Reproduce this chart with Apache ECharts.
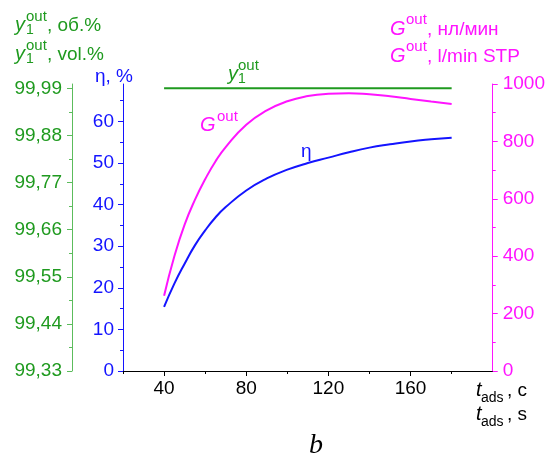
<!DOCTYPE html>
<html>
<head>
<meta charset="utf-8">
<script src="https://cdn.jsdelivr.net/npm/echarts@6.0.0/dist/echarts.min.js"></script>
<style>
html,body{margin:0;padding:0;background:#fff;}
#main{width:548px;height:457px;}
</style>
</head>
<body>
<div id="main"></div>
<script>
// время адсорбции, с
var tAds = [40, 45, 50, 55, 60, 65, 70, 80, 90, 100, 110, 120, 130, 140, 150, 160, 170, 180];
// η, %
var eta = [15.4, 21.0, 25.8, 30.2, 33.8, 36.9, 39.4, 43.4, 46.3, 48.4, 50.0, 51.3, 52.6, 53.7, 54.5, 55.2, 55.7, 56.1];
// G out, нл/мин
var gOut = [262, 400, 510, 596, 668, 730, 780, 858, 908, 940, 958, 966, 968, 964, 957, 948, 939, 930];
// y1 out, об.%
var yOutT = [40, 180];
var yOut = [99.99, 99.99];

var xTicks = [40, 80, 120, 160];
var xMinor = [20, 60, 100, 140, 180];
var etaTicks = [0, 10, 20, 30, 40, 50, 60];
var etaMinor = [5, 15, 25, 35, 45, 55, 65];
var greenTicks = [99.33, 99.44, 99.55, 99.66, 99.77, 99.88, 99.99];
var greenMinor = [99.385, 99.495, 99.605, 99.715, 99.825, 99.935];
var gTicks = [0, 200, 400, 600, 800, 1000];
var gMinor = [100, 300, 500, 700, 900];

var BLUE = '#1414ff', MAG = '#ff14ff', GREEN = '#1f9a1f', GREEN_AX = '#5cbc5c';
var FONT = 'Liberation Sans, Arial, sans-serif';

function pairs(xs, ys){
	var out = [];
	for (var i = 0; i < xs.length; i++) out.push([xs[i], ys[i]]);
	return out;
}
function txt(x, y, s, color, size, italic, family){
	return {
		type: 'text', x: x, y: y, silent: true,
		style: {
			text: s, fill: color,
			font: (italic ? 'italic ' : '') + size + 'px ' + (family || FONT),
			textAlign: 'left', textVerticalAlign: 'middle'
		}
	};
}
// ось: основные деления с подписями
function yMain(opt){
	return {
		type: 'value', gridIndex: 0, position: opt.pos, offset: opt.offset || 0,
		min: opt.min, max: opt.max,
		axisLine: {show: true, lineStyle: {color: opt.line, width: 1}},
		axisTick: {show: true, length: 5, customValues: opt.ticks, lineStyle: {color: opt.line}},
		axisLabel: {customValues: opt.ticks, color: opt.color, fontSize: 19, fontFamily: FONT,
			margin: opt.margin || 9, formatter: opt.fmt || function(v){ return String(v); }},
		splitLine: {show: false}
	};
}
// ось только для мелких делений
function yMinor(opt){
	return {
		type: 'value', gridIndex: 0, position: opt.pos, offset: opt.offset || 0,
		min: opt.min, max: opt.max,
		axisLine: {show: false},
		axisTick: {show: true, length: 3, customValues: opt.ticks, lineStyle: {color: opt.line}},
		axisLabel: {show: false},
		splitLine: {show: false}
	};
}

var chart = echarts.init(document.getElementById('main'));
chart.setOption({
	animation: false,
	backgroundColor: '#fff',
	grid: {left: 123, right: 54, top: 84, bottom: 86, containLabel: false},
	xAxis: [
		{
			type: 'value', min: 20, max: 200, position: 'bottom',
			axisLine: {show: true, lineStyle: {color: '#000', width: 1}},
			axisTick: {show: true, length: 5, customValues: xTicks, lineStyle: {color: '#000'}},
			axisLabel: {customValues: xTicks, color: '#000', fontSize: 19, fontFamily: FONT, margin: 8},
			splitLine: {show: false}
		},
		{
			type: 'value', min: 20, max: 200, position: 'bottom',
			axisLine: {show: false},
			axisTick: {show: true, length: 3, customValues: xMinor, lineStyle: {color: '#000'}},
			axisLabel: {show: false},
			splitLine: {show: false}
		}
	],
	yAxis: [
		yMain({pos: 'left', min: 0, max: 69, ticks: etaTicks, line: BLUE, color: BLUE}),
		yMinor({pos: 'left', min: 0, max: 69, ticks: etaMinor, line: BLUE}),
		yMain({pos: 'left', offset: 51, min: 99.33, max: 100.0, ticks: greenTicks, line: GREEN_AX, color: GREEN,
			margin: 10, fmt: function(v){ return v.toFixed(2).replace('.', ','); }}),
		yMinor({pos: 'left', offset: 51, min: 99.33, max: 100.0, ticks: greenMinor, line: GREEN_AX}),
		yMain({pos: 'right', min: 0, max: 1000, ticks: gTicks, line: MAG, color: MAG, margin: 10}),
		yMinor({pos: 'right', min: 0, max: 1000, ticks: gMinor, line: MAG})
	],
	series: [
		{
			name: 'η', type: 'line', yAxisIndex: 0, smooth: true, showSymbol: false,
			data: pairs(tAds, eta), lineStyle: {color: BLUE, width: 2}
		},
		{
			name: 'Gout', type: 'line', yAxisIndex: 4, smooth: true, showSymbol: false,
			data: pairs(tAds, gOut), lineStyle: {color: MAG, width: 2}
		},
		{
			name: 'y1out', type: 'line', yAxisIndex: 2, showSymbol: false,
			data: pairs(yOutT, yOut), lineStyle: {color: GREEN, width: 2}
		}
	],
	graphic: [
		// y1out, об.% / vol.%
		txt(15, 25, 'y', GREEN, 20, true), txt(26, 17, 'out', GREEN, 15), txt(26, 30, '1', GREEN, 14),
		txt(47, 26, ', об.%', GREEN, 19),
		txt(15, 54, 'y', GREEN, 20, true), txt(26, 46, 'out', GREEN, 15), txt(26, 59, '1', GREEN, 14),
		txt(47, 55, ', vol.%', GREEN, 19),
		// η, %
		txt(95, 77, 'η, %', BLUE, 19),
		// Gout, нл/мин / l/min STP
		txt(390, 29, 'G', MAG, 20, true), txt(406, 20, 'out', MAG, 15), txt(427, 30, ', нл/мин', MAG, 19),
		txt(390, 56, 'G', MAG, 20, true), txt(406, 47, 'out', MAG, 15), txt(427, 57, ', l/min STP', MAG, 19),
		// tads , c / s
		txt(476, 390, 't', '#000', 20, true), txt(481, 398, 'ads', '#000', 14), txt(507, 391, ', c', '#000', 19),
		txt(476, 414, 't', '#000', 20, true), txt(481, 422, 'ads', '#000', 14), txt(507, 415, ', s', '#000', 19),
		// подписи кривых
		txt(228, 74, 'y', GREEN, 20, true), txt(238, 66, 'out', GREEN, 15), txt(238, 79, '1', GREEN, 14),
		txt(200, 125, 'G', MAG, 20, true), txt(217, 117, 'out', MAG, 15),
		txt(301, 152, 'η', BLUE, 19),
		// b
		txt(309, 446, 'b', '#000', 28, true, 'Liberation Serif, Times New Roman, serif')
	]
});
</script>
</body>
</html>
